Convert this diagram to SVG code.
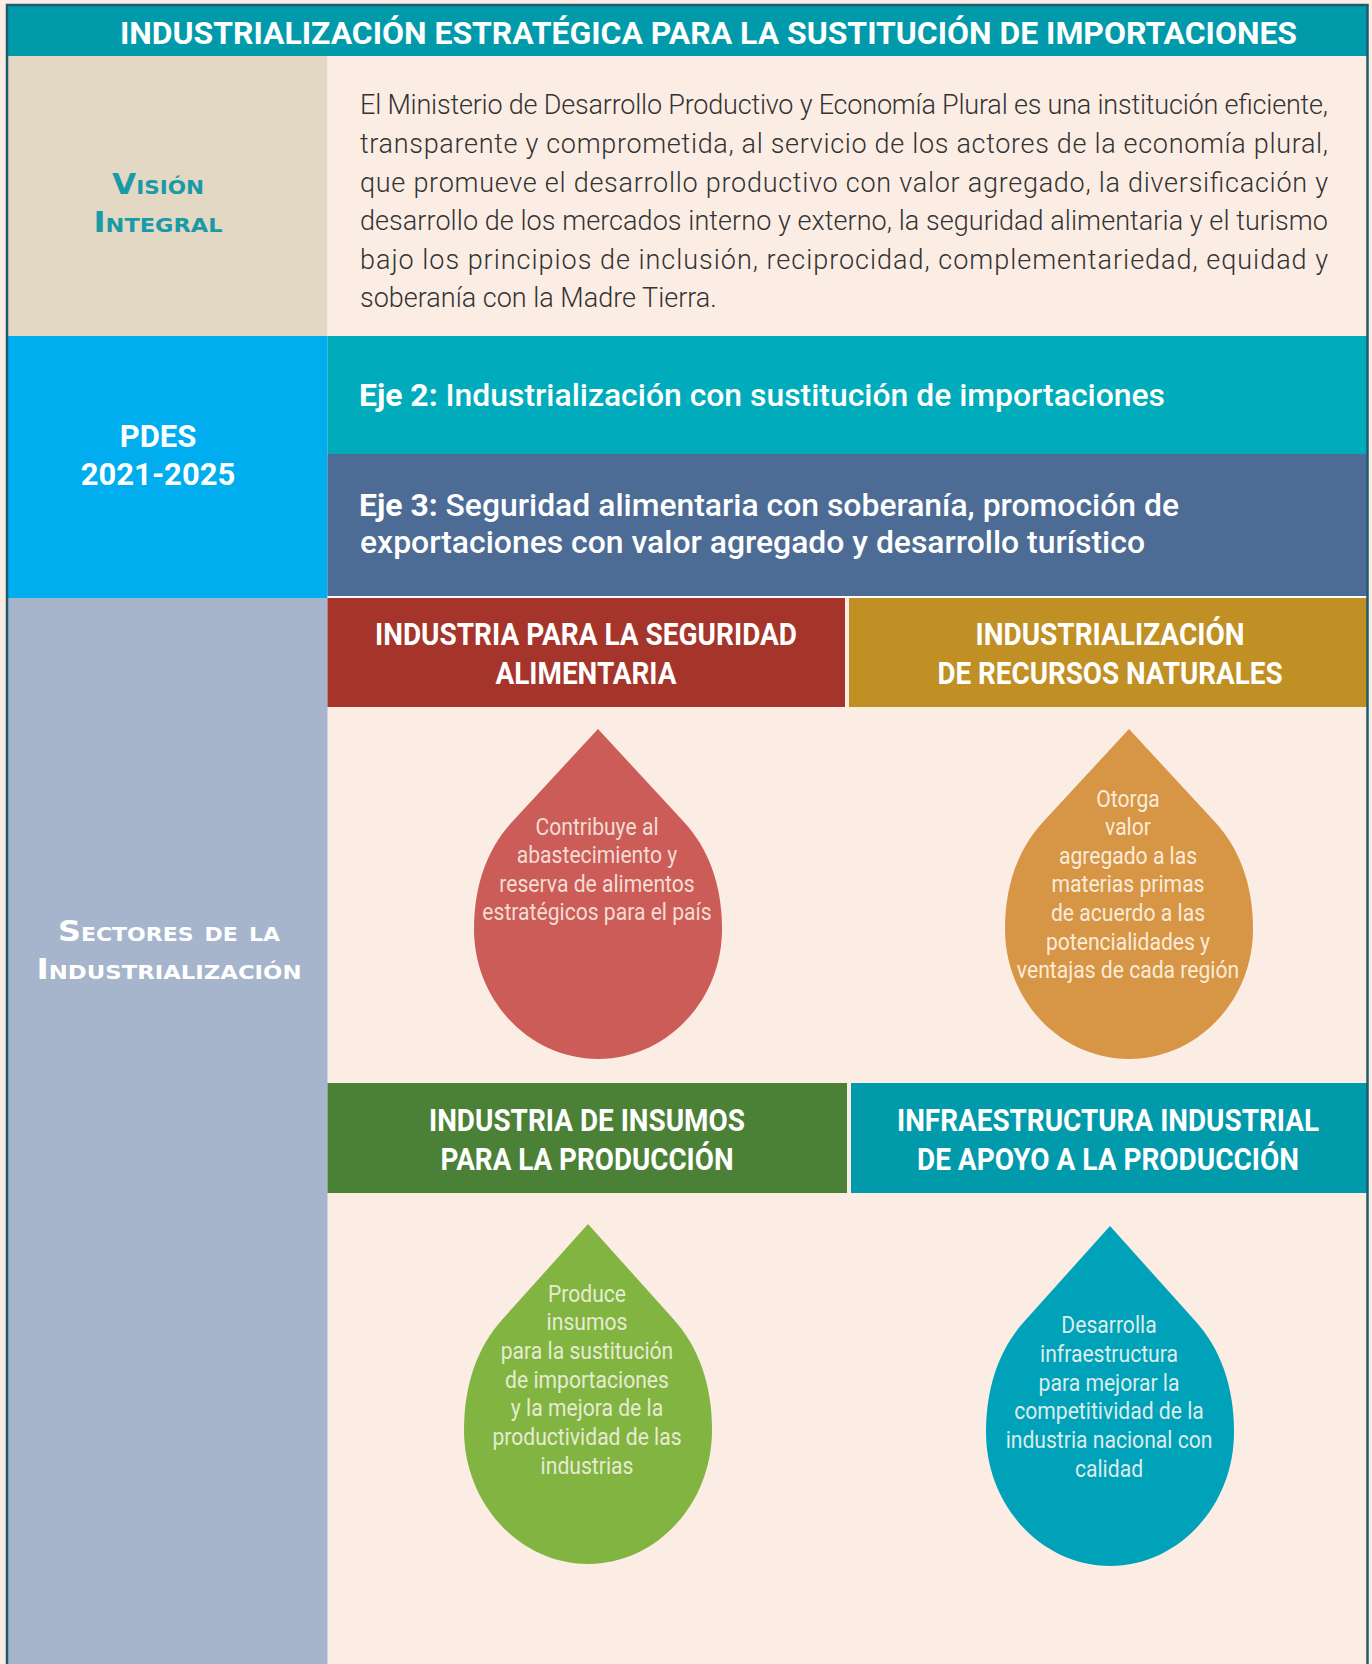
<svg xmlns="http://www.w3.org/2000/svg" width="1372" height="1664" viewBox="0 0 1372 1664">
<style>
.t{font-family:Roboto,"Liberation Sans",sans-serif}
.w{fill:#fff}
.hd{font-family:Roboto,"Liberation Sans",sans-serif;font-weight:700;font-size:32px;fill:#fff;text-anchor:middle}
.para{font-family:Roboto,"Liberation Sans",sans-serif;font-weight:300;font-size:27px;fill:#333}
.eje{font-family:Roboto,"Liberation Sans",sans-serif;font-weight:500;font-size:32px;fill:#fff}
.sc{font-family:"DejaVu Sans","Liberation Sans",sans-serif;font-weight:700;font-size:29px;font-variant:small-caps;text-anchor:middle}
.dt{font-family:Roboto,"Liberation Sans",sans-serif;font-weight:400;font-size:24px;text-anchor:middle}
</style>
<defs>
<path id="drop" d="M0,0 L-86,93 C-110,119 -124,155 -124,200 C-124,272 -68,330 0,330 C68,330 124,272 124,200 C124,155 110,119 86,93 Z"/>
</defs>
<rect x="0" y="0" width="1372" height="1664" fill="#fcede4"/>

<g id="title">
<rect x="7" y="5" width="1361" height="51" fill="#019aaa"/>
<text class="t w" x="708.5" y="44" font-size="32" font-weight="700" text-anchor="middle" textLength="1177" lengthAdjust="spacingAndGlyphs">INDUSTRIALIZACIÓN ESTRATÉGICA PARA LA SUSTITUCIÓN DE IMPORTACIONES</text>
</g>

<g id="vision">
<rect x="7" y="56" width="320.5" height="280" fill="#e3d8c4"/>
<rect x="327.5" y="56" width="1040" height="280" fill="#fcede4"/>
<text class="sc" x="158" y="194" fill="#1a9aa7" textLength="92" lengthAdjust="spacingAndGlyphs">Visión</text>
<text class="sc" x="158" y="232" fill="#1a9aa7" textLength="129" lengthAdjust="spacingAndGlyphs">Integral</text>
<text class="para" x="360" y="114" textLength="968" lengthAdjust="spacing">El Ministerio de Desarrollo Productivo y Economía Plural es una institución eficiente,</text>
<text class="para" x="360" y="153" textLength="968" lengthAdjust="spacing">transparente y comprometida, al servicio de los actores de la economía plural,</text>
<text class="para" x="360" y="192" textLength="968" lengthAdjust="spacing">que promueve el desarrollo productivo con valor agregado, la diversificación y</text>
<text class="para" x="360" y="230" textLength="968" lengthAdjust="spacing">desarrollo de los mercados interno y externo, la seguridad alimentaria y el turismo</text>
<text class="para" x="360" y="269" textLength="968" lengthAdjust="spacing">bajo los principios de inclusión, reciprocidad, complementariedad, equidad y</text>
<text class="para" x="360" y="307">soberanía con la Madre Tierra.</text>
</g>

<g id="pdes">
<rect x="7" y="336" width="320.5" height="262" fill="#00adef"/>
<text class="t w" x="158" y="447" font-size="31" font-weight="700" text-anchor="middle">PDES</text>
<text class="t w" x="158" y="485" font-size="31" font-weight="700" text-anchor="middle">2021-2025</text>
</g>

<g id="eje2">
<rect x="327.5" y="336" width="1040" height="118" fill="#00acbb"/>
<text class="eje" x="359" y="406" textLength="806" lengthAdjust="spacingAndGlyphs"><tspan font-weight="700">Eje 2:</tspan> Industrialización con sustitución de importaciones</text>
</g>

<g id="eje3">
<rect x="327.5" y="454" width="1040" height="142" fill="#4c6c96"/>
<text class="eje" x="359" y="516" textLength="820" lengthAdjust="spacingAndGlyphs"><tspan font-weight="700">Eje 3:</tspan> Seguridad alimentaria con soberanía, promoción de</text>
<text class="eje" x="360" y="553" textLength="785" lengthAdjust="spacingAndGlyphs">exportaciones con valor agregado y desarrollo turístico</text>
<rect x="327.5" y="596" width="1040" height="1.5" fill="#ffffff"/>
</g>

<g id="sectores">
<rect x="7" y="598" width="320.5" height="1070" fill="#a6b5cb"/>
<text class="sc" x="169" y="941" fill="#fff" textLength="222" lengthAdjust="spacingAndGlyphs">Sectores de la</text>
<text class="sc" x="169" y="979" fill="#fff" textLength="265" lengthAdjust="spacingAndGlyphs">Industrialización</text>
</g>

<g id="sector-alimentaria">
<rect x="327.5" y="598" width="517.5" height="109" fill="#a5352b"/>
<text class="hd" x="586" y="645" textLength="422" lengthAdjust="spacingAndGlyphs">INDUSTRIA PARA LA SEGURIDAD</text>
<text class="hd" x="586" y="684" textLength="181" lengthAdjust="spacingAndGlyphs">ALIMENTARIA</text>
<use href="#drop" transform="translate(598 729)" fill="#cc5c58"/>
<g class="dt" fill="#f3dcd3" transform="translate(597 0) scale(0.88 1)">
<text x="0" y="835">Contribuye al</text>
<text x="0" y="863">abastecimiento y</text>
<text x="0" y="892">reserva de alimentos</text>
<text x="0" y="920">estratégicos para el país</text>
</g>
</g>

<g id="sector-recursos">
<rect x="849" y="598" width="518.5" height="109" fill="#c09024"/>
<text class="hd" x="1110" y="645" textLength="269" lengthAdjust="spacingAndGlyphs">INDUSTRIALIZACIÓN</text>
<text class="hd" x="1110" y="684" textLength="345" lengthAdjust="spacingAndGlyphs">DE RECURSOS NATURALES</text>
<use href="#drop" transform="translate(1129 729)" fill="#d69646"/>
<g class="dt" fill="#fbebd8" transform="translate(1128 0) scale(0.88 1)">
<text x="0" y="807">Otorga</text>
<text x="0" y="835">valor</text>
<text x="0" y="864">agregado a las</text>
<text x="0" y="892">materias primas</text>
<text x="0" y="921">de acuerdo a las</text>
<text x="0" y="950">potencialidades y</text>
<text x="0" y="978">ventajas de cada región</text>
</g>
</g>

<g id="sector-insumos">
<rect x="327.5" y="1083" width="519.5" height="110" fill="#4b8137"/>
<text class="hd" x="587" y="1131" textLength="316" lengthAdjust="spacingAndGlyphs">INDUSTRIA DE INSUMOS</text>
<text class="hd" x="587" y="1170" textLength="293" lengthAdjust="spacingAndGlyphs">PARA LA PRODUCCIÓN</text>
<use href="#drop" transform="translate(588 1224) scale(1 1.03)" fill="#82b441"/>
<g class="dt" fill="#e6ebd4" transform="translate(587 0) scale(0.88 1)">
<text x="0" y="1302">Produce</text>
<text x="0" y="1330">insumos</text>
<text x="0" y="1359">para la sustitución</text>
<text x="0" y="1388">de importaciones</text>
<text x="0" y="1416">y la mejora de la</text>
<text x="0" y="1445">productividad de las</text>
<text x="0" y="1474">industrias</text>
</g>
</g>

<g id="sector-infraestructura">
<rect x="851" y="1083" width="516.5" height="110" fill="#019aab"/>
<text class="hd" x="1108" y="1131" textLength="422" lengthAdjust="spacingAndGlyphs">INFRAESTRUCTURA INDUSTRIAL</text>
<text class="hd" x="1108" y="1170" textLength="382" lengthAdjust="spacingAndGlyphs">DE APOYO A LA PRODUCCIÓN</text>
<use href="#drop" transform="translate(1110 1226) scale(1 1.03)" fill="#00a2b9"/>
<g class="dt" fill="#dcecea" transform="translate(1109 0) scale(0.88 1)">
<text x="0" y="1333">Desarrolla</text>
<text x="0" y="1362">infraestructura</text>
<text x="0" y="1391">para mejorar la</text>
<text x="0" y="1419">competitividad de la</text>
<text x="0" y="1448">industria nacional con</text>
<text x="0" y="1477">calidad</text>
</g>
</g>

<g id="connectors"></g>

<path d="M7,1670 V5 H1367.5 V1670" fill="none" stroke="#1e5b6f" stroke-width="2.5"/>
</svg>
